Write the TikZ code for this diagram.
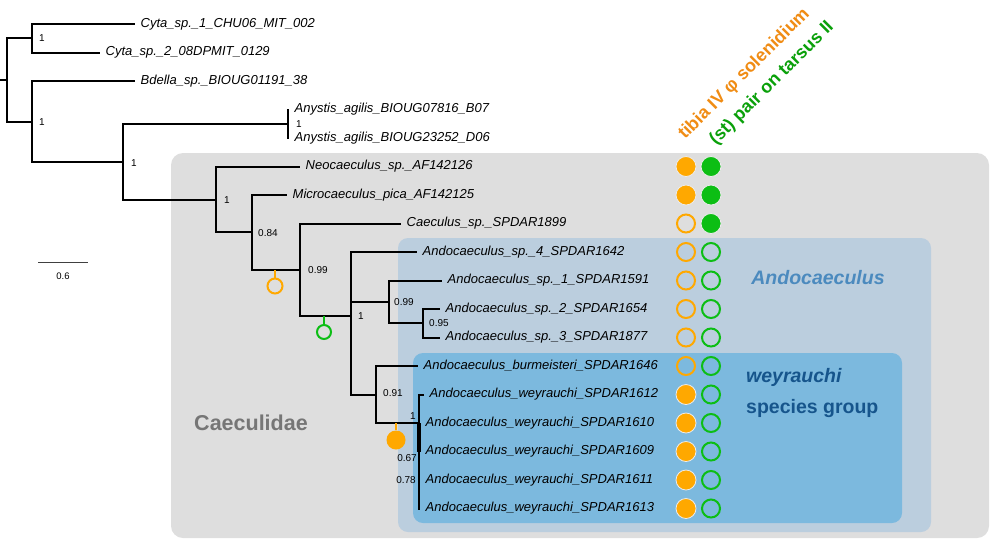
\documentclass[tikz,border=0pt]{standalone}
\usepackage{fontspec}
\setmainfont{Liberation Sans}
\definecolor{cgray}{RGB}{222,222,222}
\definecolor{cando}{RGB}{187,206,222}
\definecolor{cwey}{RGB}{124,185,222}
\definecolor{corange}{RGB}{255,168,0}
\definecolor{cgreen}{RGB}{12,190,20}
\definecolor{horange}{RGB}{240,140,20}
\definecolor{hgreen}{RGB}{10,160,10}
\definecolor{andotxt}{RGB}{75,138,190}
\definecolor{weytxt}{RGB}{22,85,140}
\definecolor{caetxt}{RGB}{118,118,118}
\begin{document}
\begin{tikzpicture}[x=1pt,y=-1pt,
  branch/.style={line width=2pt,black},
  tip/.style={anchor=west,inner xsep=5.5pt,inner ysep=0pt,font=\fontsize{13}{13}\selectfont\itshape},
  supp/.style={anchor=west,inner sep=0pt,font=\fontsize{10}{10}\selectfont},
  suppr/.style={anchor=east,inner sep=0pt,font=\fontsize{10}{10}\selectfont},
  Ofill/.style={circle,inner sep=0pt,minimum size=20pt,fill=corange,draw=white!85!gray,line width=0.8pt},
  Oopen/.style={circle,inner sep=0pt,minimum size=18pt,draw=corange,line width=2pt},
  Gfill/.style={circle,inner sep=0pt,minimum size=20pt,fill=cgreen,draw=white!85!gray,line width=0.8pt},
  Gopen/.style={circle,inner sep=0pt,minimum size=18pt,draw=cgreen,line width=2pt},
  bigtxt/.style={inner sep=0pt,font=\bfseries\fontsize{19.5}{19.5}\selectfont},
  head/.style={rotate=45,anchor=base west,inner sep=0pt,font=\bfseries\fontsize{18}{18}\selectfont}
]
\useasboundingbox (0,0) rectangle (993,542);
% background boxes
\fill[cgray,rounded corners=12pt] (171,153) rectangle (989,538);
\fill[cando,rounded corners=10pt] (398,238) rectangle (931,532);
\fill[cwey,rounded corners=10pt] (413,353) rectangle (902,523);

% internal nodes
\coordinate (rootstub) at (0,80);
\coordinate (root) at (7,80);
\coordinate (nCyta) at (32,38.25);
\coordinate (n1) at (32,121.5);
\coordinate (n2) at (123,162);
\coordinate (nAny) at (288,124);
\coordinate (nCae) at (216,199.5);
\coordinate (nMic) at (252,232);
\coordinate (nCaec) at (300,270);
\coordinate (nAndo) at (351,316);
\coordinate (nSp) at (389,302);
\coordinate (nSp23) at (423,323);
\coordinate (nBW) at (376,394.5);
\coordinate (nW) at (419,423);
\coordinate (nW2) at (419,451.5);

% tips
\node[tip] (t0) at (135,24) {Cyta\_sp.\_1\_CHU06\_MIT\_002};
\node[tip] (t1) at (100,52.5) {Cyta\_sp.\_2\_08DPMIT\_0129};
\node[tip] (t2) at (135,81) {Bdella\_sp.\_BIOUG01191\_38};
\node[tip] (t3) at (289,109.5) {Anystis\_agilis\_BIOUG07816\_B07};
\node[tip] (t4) at (289,138) {Anystis\_agilis\_BIOUG23252\_D06};
\node[tip] (t5) at (300,166.5) {Neocaeculus\_sp.\_AF142126};
\node[tip] (t6) at (287,195) {Microcaeculus\_pica\_AF142125};
\node[tip] (t7) at (401,223.5) {Caeculus\_sp.\_SPDAR1899};
\node[tip] (t8) at (417,252) {Andocaeculus\_sp.\_4\_SPDAR1642};
\node[tip] (t9) at (442,280.5) {Andocaeculus\_sp.\_1\_SPDAR1591};
\node[tip] (t10) at (440,309) {Andocaeculus\_sp.\_2\_SPDAR1654};
\node[tip] (t11) at (440,337.5) {Andocaeculus\_sp.\_3\_SPDAR1877};
\node[tip] (t12) at (418,366) {Andocaeculus\_burmeisteri\_SPDAR1646};
\node[tip] (t13) at (424,394.5) {Andocaeculus\_weyrauchi\_SPDAR1612};
\node[tip] (t14) at (420,423) {Andocaeculus\_weyrauchi\_SPDAR1610};
\node[tip] (t15) at (420,451.5) {Andocaeculus\_weyrauchi\_SPDAR1609};
\node[tip] (t16) at (420,480) {Andocaeculus\_weyrauchi\_SPDAR1611};
\node[tip] (t17) at (420,508.5) {Andocaeculus\_weyrauchi\_SPDAR1613};

% branches
\draw[branch] (rootstub) -- (root);
\draw[branch] (root) |- (nCyta);
\draw[branch] (root) |- (n1);
\draw[branch] (nCyta) |- (t0.west);
\draw[branch] (nCyta) |- (t1.west);
\draw[branch] (n1) |- (t2.west);
\draw[branch] (n1) |- (n2);
\draw[branch] (n2) |- (nAny);
\draw[branch] (n2) |- (nCae);
\draw[branch] (nAny) |- (t3.west);
\draw[branch] (nAny) |- (t4.west);
\draw[branch] (nCae) |- (t5.west);
\draw[branch] (nCae) |- (nMic);
\draw[branch] (nMic) |- (t6.west);
\draw[branch] (nMic) |- (nCaec);
\draw[branch] (nCaec) |- (t7.west);
\draw[branch] (nCaec) |- (nAndo);
\draw[branch] (nAndo) |- (t8.west);
\draw[branch] (nAndo) |- (nSp);
\draw[branch] (nAndo) |- (nBW);
\draw[branch] (nSp) |- (t9.west);
\draw[branch] (nSp) |- (nSp23);
\draw[branch] (nSp23) |- (t10.west);
\draw[branch] (nSp23) |- (t11.west);
\draw[branch] (nBW) |- (t12.west);
\draw[branch] (nBW) |- (nW);
\draw[branch] (nW) |- (t13.west);
\draw[branch] (nW) |- (t14.west);
\draw[branch] (nW) |- (t15.west);
\draw[branch] (nW) |- (t16.west);
\draw[branch] (nW) |- (t17.west);
\draw[line width=3.5pt] (nW) -- (nW2);

% support values
\node[supp] (s1) at (39,38) {1};
\node[supp] (s2) at (39,122) {1};
\node[supp] (s3) at (131,163) {1};
\node[supp] (s4) at (296,124) {1};
\node[supp] (s5) at (224,200) {1};
\node[supp] (s6) at (258,233) {0.84};
\node[supp] (s7) at (308,270) {0.99};
\node[supp] (s8) at (358,316) {1};
\node[supp] (s9) at (394,302) {0.99};
\node[supp] (s10) at (429,323) {0.95};
\node[supp] (s11) at (383,393) {0.91};
\node[suppr] (s12) at (416,416) {1};
\node[suppr] (s13) at (417,458) {0.67};
\node[suppr] (s14) at (416,480) {0.78};

% character-change markers on branches
\coordinate (b1) at (275,270);
\node[Oopen,minimum size=15pt] (m1) at (275,286) {};
\draw[corange,line width=2pt] (b1) -- (m1);
\coordinate (b2) at (324,316);
\node[Gopen,minimum size=14pt] (m2) at (324,332) {};
\draw[cgreen,line width=2pt] (b2) -- (m2);
\coordinate (b3) at (396,423);
\node[Ofill,minimum size=19pt,draw=none] (m3) at (396,440) {};
\draw[corange,line width=2pt] (b3) -- (m3);

% character columns
\foreach \k/\o/\g in {5/Ofill/Gfill,6/Ofill/Gfill,7/Oopen/Gfill,8/Oopen/Gopen,9/Oopen/Gopen,10/Oopen/Gopen,11/Oopen/Gopen,12/Oopen/Gopen,13/Ofill/Gopen,14/Ofill/Gopen,15/Ofill/Gopen,16/Ofill/Gopen,17/Ofill/Gopen}{
  \node[\o] (co\k) at (686,24+28.5*\k) {};
  \node[\g] (cg\k) at (711,24+28.5*\k) {};
}

% headers
\node[head,text=horange] (h1) at (685,140) {tibia IV φ solenidium};
\node[head,text=hgreen] (h2) at (716,146) {(st) pair on tarsus II};

% group labels
\node[bigtxt,text=caetxt,font=\bfseries\fontsize{21.5}{21.5}\selectfont] (lcae) at (251,423) {Caeculidae};
\node[bigtxt,text=andotxt,font=\bfseries\itshape\fontsize{19.5}{19.5}\selectfont] (lando) at (818,278) {Andocaeculus};
\node[bigtxt,anchor=west,text=weytxt,font=\bfseries\itshape\fontsize{19.5}{19.5}\selectfont] (lwey) at (746,377) {weyrauchi};
\node[bigtxt,anchor=west,text=weytxt] (lsg) at (746,408) {species group};

% scale bar
\coordinate (sb1) at (38,262);
\coordinate (sb2) at (88,262);
\draw[line width=1pt,black!75] (sb1) -- (sb2);
\node[inner sep=0pt,font=\fontsize{9.5}{9.5}\selectfont] (sbl) at (63,276) {0.6};
\end{tikzpicture}
\end{document}
